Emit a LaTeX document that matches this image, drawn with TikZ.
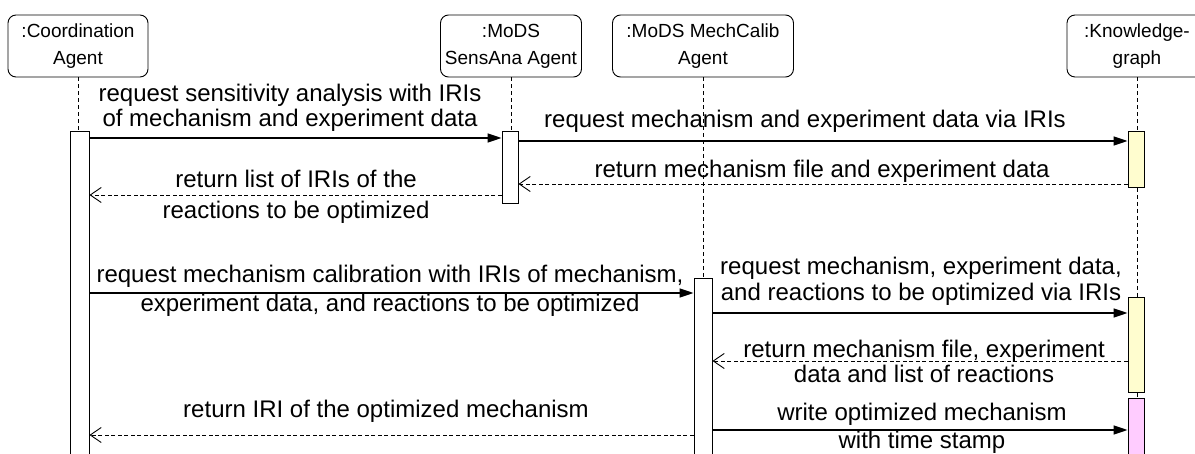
\documentclass[tikz,border=0pt]{standalone}
\usepackage{fontspec}
\setmainfont{Liberation Sans}
\usetikzlibrary{arrows.meta}
\definecolor{kgyellow}{HTML}{FFFDCF}
\definecolor{kgpink}{HTML}{FFCCFF}
\begin{document}
\begin{tikzpicture}[x=1pt,y=-1pt,
  actor/.style={draw, rounded corners=8pt, minimum height=62pt, align=center,
    font=\fontsize{19}{27}\selectfont, line width=0.9pt, inner sep=2pt},
  life/.style={line width=0.8pt, dash pattern=on 4pt off 3pt},
  actbox/.style={draw, fill=white, minimum width=17pt, inner sep=0pt, line width=0.9pt, anchor=north},
  call/.style={line width=1.3pt, -{Triangle[length=14pt,width=9pt]}},
  reply/.style={line width=0.9pt, dash pattern=on 4pt off 2.5pt, -{Straight Barb[length=11pt,width=15pt]}},
  lbl/.style={align=center, inner sep=0pt}
]
\useasboundingbox (0,0) rectangle (1195,454);

% participants
\node[actor, minimum width=140pt] (coord) at (78,46) {:Coordination\\Agent};
\node[actor, minimum width=141pt] (sens) at (511,46) {:MoDS\\SensAna Agent};
\node[actor, minimum width=181pt] (calib) at (703,46) {:MoDS MechCalib\\Agent};
\node[actor, minimum width=140pt] (kg) at (1137,46) {:Knowledge-\\graph};

% activation bars
\node[actbox, minimum width=19pt, minimum height=340pt] (coordAct) at (79.5,131) {};
\node[actbox, minimum width=16pt, minimum height=72pt] (sensAct) at (510,131) {};
\node[actbox, minimum width=18pt, minimum height=200pt] (calibAct) at (703,278) {};
\node[actbox, minimum width=16pt, fill=kgyellow, minimum height=56pt] (kgActA) at (1136,131) {};
\node[actbox, minimum width=16pt, fill=kgyellow, minimum height=95pt] (kgActB) at (1136,297) {};
\node[actbox, minimum width=16pt, fill=kgpink, minimum height=80pt] (kgActC) at (1136,398) {};

% lifelines
\draw[life] (coord.south) -- (coord.south |- coordAct.north);
\draw[life] (sens.south) -- (sens.south |- sensAct.north);
\draw[life] (calib.south) -- (calibAct.north);
\draw[life] (kg.south) -- (kg.south |- kgActA.north);
\draw[life] (kg.south |- kgActA.south) -- (kg.south |- kgActB.north);
\draw[life] (kg.south |- kgActB.south) -- (kg.south |- kgActC.north);

% messages
\draw[call] (coordAct.east |- 0,138) -- (sensAct.west |- 0,138);
\node[lbl, font=\fontsize{24}{25}\selectfont] (l1) at (290,107.5)
  {request sensitivity analysis with IRIs\\of mechanism and experiment data};

\draw[call] (sensAct.east |- 0,141) -- (kgActA.west |- 0,141);
\node[lbl, font=\fontsize{24}{25}\selectfont] (l2) at (805,121)
  {request mechanism and experiment data via IRIs};

\draw[reply] (kgActA.west |- 0,184) -- (sensAct.east |- 0,184);
\node[lbl, font=\fontsize{24}{25}\selectfont] (l3) at (822,171)
  {return mechanism file and experiment data};

\draw[reply] (sensAct.west |- 0,195) -- (coordAct.east |- 0,195);
\node[lbl, font=\fontsize{24}{31}\selectfont] (l4) at (296,196.5)
  {return list of IRIs of the\\reactions to be optimized};

\draw[call] (coordAct.east |- 0,293) -- (calibAct.west |- 0,293);
\node[lbl, font=\fontsize{24}{29}\selectfont] (l5) at (390,290.5)
  {request mechanism calibration with IRIs of mechanism,\\experiment data, and reactions to be optimized};

\draw[call] (calibAct.east |- 0,313) -- (kgActB.west |- 0,313);
\node[lbl, font=\fontsize{24}{26}\selectfont] (l6) at (921,281)
  {request mechanism, experiment data,\\and reactions to be optimized via IRIs};

\draw[reply] (kgActB.west |- 0,361) -- (calibAct.east |- 0,361);
\node[lbl, font=\fontsize{24}{25}\selectfont] (l7) at (924,361)
  {return mechanism file, experiment\\data and list of reactions};

\draw[reply] (calibAct.west |- 0,435) -- (coordAct.east |- 0,435);
\node[lbl, font=\fontsize{24}{25}\selectfont] (l8) at (386,411)
  {return IRI of the optimized mechanism};

\draw[call] (calibAct.east |- 0,430) -- (kgActC.west |- 0,430);
\node[lbl, font=\fontsize{24}{28}\selectfont] (l9) at (922,428)
  {write optimized mechanism\\with time stamp};
\end{tikzpicture}
\end{document}
